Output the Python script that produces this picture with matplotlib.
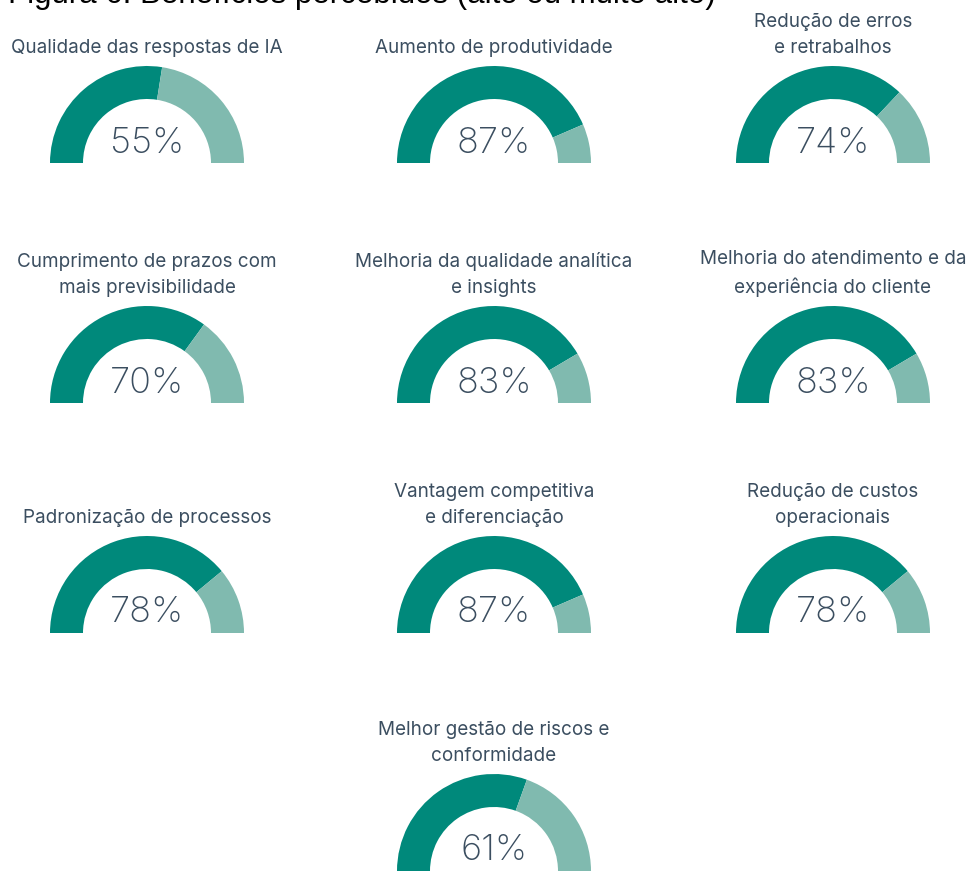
import matplotlib
matplotlib.use("Agg")
import matplotlib.pyplot as plt
from matplotlib.patches import Wedge

# dados
labels = [
    "Qualidade das respostas de IA",
    "Aumento de produtividade",
    "Redução de erros\ne retrabalhos",
    "Cumprimento de prazos com\nmais previsibilidade",
    "Melhoria da qualidade analítica\ne insights",
    "Melhoria do atendimento e da\nexperiência do cliente",
    "Padronização de processos",
    "Vantagem competitiva\ne diferenciação",
    "Redução de custos\noperacionais",
    "Melhor gestão de riscos e\nconformidade",
]
values = [55, 87, 74, 70, 83, 83, 78, 87, 78, 61]

W, H = 970, 872
dark = "#00897B"
light = "#80BAAF"
txt = "#3B4E60"

col_x = [147, 494, 833]
row_base = [163, 403, 633, 871]   # px from top
r_out, thick = 97, 33

fig = plt.figure(figsize=(W / 100, H / 100), dpi=100)
ax = fig.add_axes([0, 0, 1, 1])
ax.set_xlim(0, W)
ax.set_ylim(0, H)
ax.set_aspect("equal")
ax.axis("off")

for i, (lab, v) in enumerate(zip(labels, values)):
    if i < 9:
        cx = col_x[i % 3]
        by = row_base[i // 3]
    else:
        cx = col_x[1]
        by = row_base[3]
    cy = H - by
    split = 180 - 180 * v / 100
    ax.add_patch(Wedge((cx, cy), r_out, split, 180, width=thick,
                       facecolor=dark, edgecolor="none"))
    ax.add_patch(Wedge((cx, cy), r_out, 0, split, width=thick,
                       facecolor=light, edgecolor="none"))
    ax.text(cx, cy + 20, f"{v}%", ha="center", va="center",
            fontsize=26, color=txt, family="Inter", fontweight="light")
    ax.text(cx, cy + 106, lab, ha="center", va="bottom",
            fontsize=13.6, color=txt, family="Inter", linespacing=1.6)

fig.text(8 / W, 1 - 3 / H, "Figura 6. Benefícios percebidos (alto ou muito alto)",
         ha="left", va="baseline", fontsize=22.5, color="black",
         family="Liberation Sans")

fig.savefig("out.png", dpi=100)
